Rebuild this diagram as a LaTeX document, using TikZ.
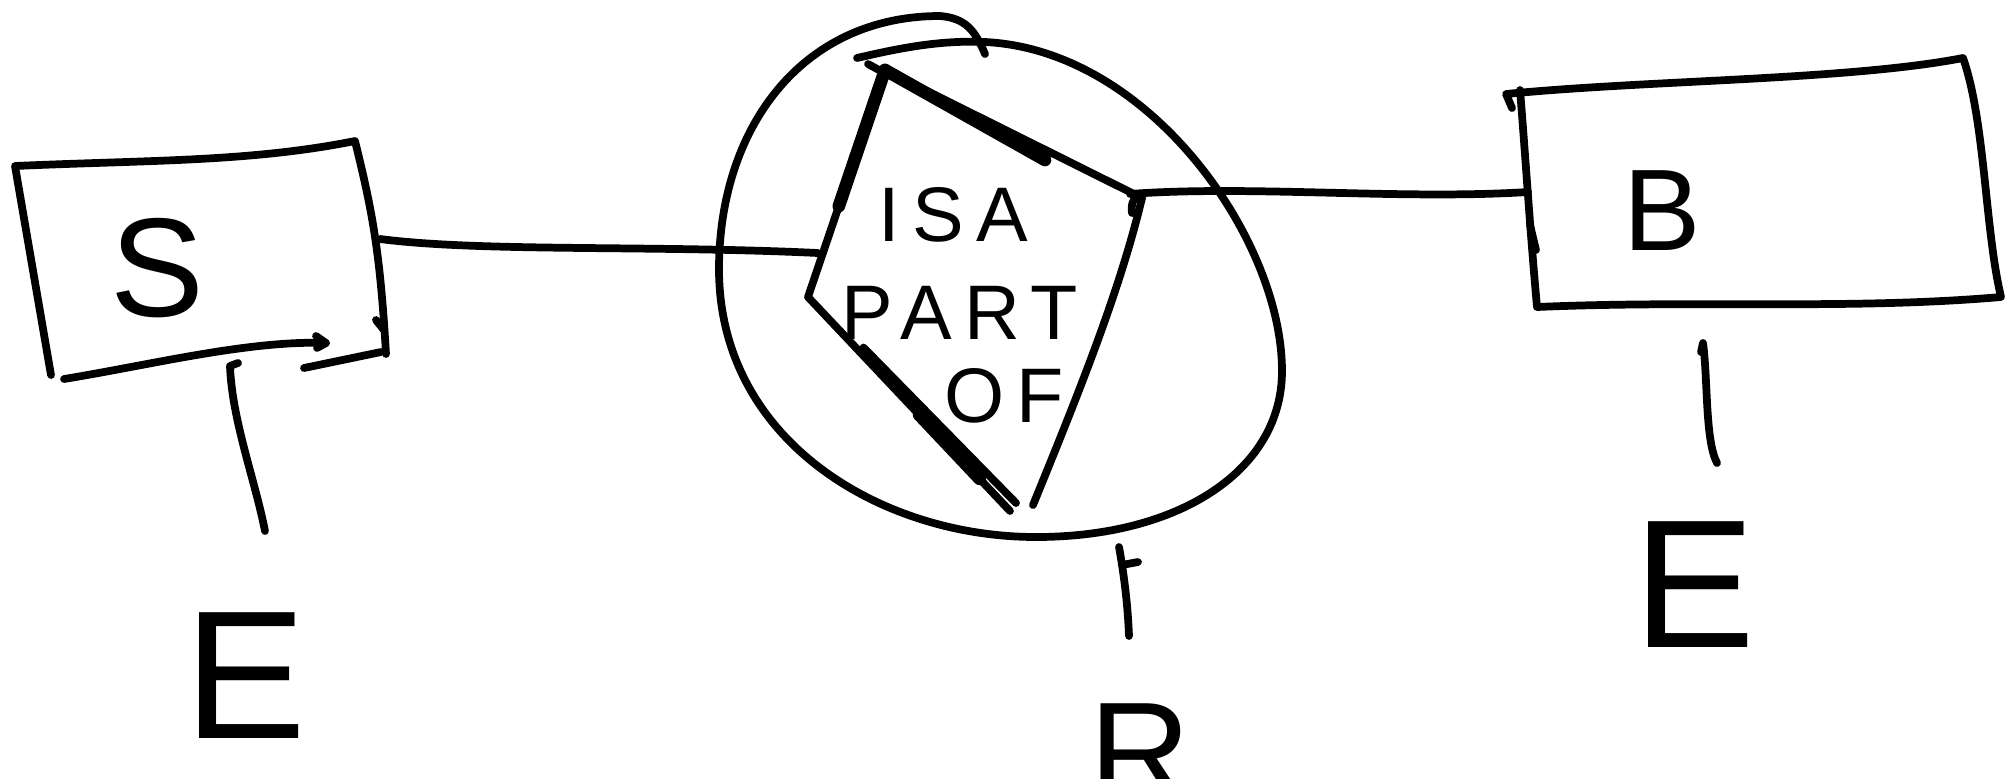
\documentclass[tikz,border=0pt]{standalone}
\usepackage{fontspec}
\usetikzlibrary{calc}
\setmainfont{Liberation Sans}
\newfontfamily\spacedfont[LetterSpace=16]{Liberation Sans}
\begin{document}
\begin{tikzpicture}[x=0.01cm,y=-0.01cm,
  pen/.style={line width=2.2pt,line cap=round,line join=round},
  heavy/.style={line width=3.6pt,line cap=round},
  letter/.style={inner sep=0pt,font=\fontsize{#1}{#1}\selectfont},
  inner/.style={inner sep=0pt,font=\spacedfont\fontsize{22}{22}\selectfont}]
\useasboundingbox (0,0) rectangle (2005,778);

% ---------- S box ----------
\coordinate (sTL) at (15,166);
\coordinate (sTR) at (355,141);
\coordinate (sBR) at (386,354);
\coordinate (sBL) at (51,375);
\draw[pen] (sBL) -- (sTL) .. controls (150,160) and (250,162) .. (sTR)
  .. controls (372,210) and (380,250) .. (sBR);
\draw[pen] (64,379) .. controls (150,365) and (250,340) .. (326,343);
\draw[pen] (316,336) -- (326,343) -- (317,348);
\draw[pen] (304,368) -- (381,352);
\draw[pen] (376,320) -- (384,330);
\node[letter=40] (S) at (157,268) {S};

% S -- E
\coordinate (sDown) at (230,366);
\coordinate (eSUp) at (265,531);
\draw[pen] (238,363) -- (sDown) .. controls (232,420) and (255,480) .. (eSUp);
\node[letter=52] (E1) at (245,676) {E};

% ---------- relationship ----------
\coordinate (dT) at (885,70);
\coordinate (dR) at (1142,198);
\coordinate (dBR) at (1033,505);
\coordinate (dBL) at (1010,511);
\coordinate (dL) at (808,297);
\coordinate (dLc) at (818,253);
\draw[pen] (dBL) -- (dL) -- (dT) -- (dR)
  .. controls (1120,290) and (1080,390) .. (dBR);
\draw[heavy] (dT) -- ($(dT)!0.6!(dL)$);
\draw[heavy] (dT) -- (1045,160);
\draw[pen] ($(dL)!0.25!(dBL)+(5,-3)$) -- ($(dBL)+(6,-8)$);
\draw[heavy] ($(dL)!0.55!(dBL)$) -- ($(dL)!0.85!(dBL)$);
\draw[pen] (868,64) -- (890,76);
\draw[pen] (1132,213) .. controls (1130,198) and (1138,196) .. (dR);

\node[inner] (isa) at (953,215) {ISA};
\node[inner] (part) at (960,313) {PART};
\node[inner] (of) at (1004,396) {OF};

% circle round the relationship
\draw[pen] (985,54) .. controls (975,30) and (965,18) .. (940,16)
  .. controls (800,16) and (719,130) .. (719,269)
  .. controls (719,440) and (880,537) .. (1036,537)
  .. controls (1180,537) and (1282,470) .. (1282,371)
  .. controls (1282,240) and (1150,50) .. (985,42)
  .. controls (940,40) and (900,48) .. (857,58);

% S -- relationship
\coordinate (sR) at (380,239);
\draw[pen] (sR) .. controls (480,252) and (650,245) .. (dLc);

% relationship -- B
\coordinate (dRc) at (1130,194);
\coordinate (bL) at (1528,192);
\draw[pen] (dRc) .. controls (1250,185) and (1400,200) .. (bL);

% ---------- B box ----------
\coordinate (bTL) at (1506,90);
\coordinate (bTR) at (1963,58);
\coordinate (bBR) at (2001,297);
\coordinate (bBL) at (1537,307);
\draw[pen] (1512,108) -- (1506,94) .. controls (1650,80) and (1850,80) .. (bTR)
  .. controls (1985,120) and (1985,230) .. (bBR)
  .. controls (1850,310) and (1700,300) .. (bBL)
  .. controls (1530,230) and (1525,150) .. (1520,90);
\draw[pen] (1530,225) -- (1536,250);
\node[letter=33] (B) at (1662,211) {B};

% B -- E
\coordinate (bDown) at (1703,343);
\coordinate (eBUp) at (1717,463);
\draw[pen] (1701,352) -- (bDown) .. controls (1708,380) and (1705,440) .. (eBUp);
\node[letter=52] (E2) at (1694,585) {E};

% relationship -- R
\coordinate (rUp) at (1119,547);
\coordinate (rDown) at (1129,636);
\draw[pen] (rUp) .. controls (1125,580) and (1128,610) .. (rDown);
\draw[pen] (1122,565) -- (1138,562);
\node[letter=40] (R) at (1140,752) {R};
\end{tikzpicture}
\end{document}
